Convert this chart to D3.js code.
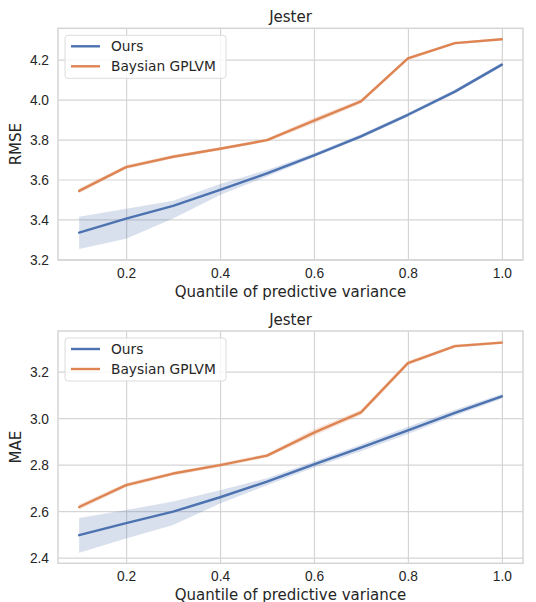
<!DOCTYPE html>
<html>
<head>
<meta charset="utf-8">
<script src="https://cdn.jsdelivr.net/npm/d3@7"></script>
<style>
  body { margin: 0; background: #fff; }
  svg { display: block; font-family: "DejaVu Sans", sans-serif; }
</style>
</head>
<body>
<svg id="chart" width="536" height="602"></svg>
<script>
// quantiles on the x axis
const quantiles = [0.1, 0.2, 0.3, 0.4, 0.5, 0.6, 0.7, 0.8, 0.9, 1.0];
const xTicks = [0.2, 0.4, 0.6, 0.8, 1.0];

// RMSE panel
const rmseOurs   = [3.334, 3.404, 3.468, 3.548, 3.631, 3.721, 3.816, 3.924, 4.040, 4.175];
const rmseOursLo = [3.252, 3.303, 3.405, 3.522, 3.615, 3.711, 3.806, 3.914, 4.030, 4.166];
const rmseOursHi = [3.414, 3.454, 3.494, 3.578, 3.648, 3.731, 3.826, 3.934, 4.050, 4.184];
const rmseGp     = [3.543, 3.662, 3.714, 3.754, 3.797, 3.895, 3.991, 4.206, 4.283, 4.302];
const rmseGpLo   = [3.531, 3.652, 3.705, 3.746, 3.789, 3.881, 3.980, 4.197, 4.276, 4.297];
const rmseGpHi   = [3.555, 3.672, 3.723, 3.762, 3.805, 3.909, 4.002, 4.215, 4.290, 4.307];
const rmseTicks  = [3.2, 3.4, 3.6, 3.8, 4.0, 4.2];

// MAE panel
const maeOurs   = [2.497, 2.549, 2.598, 2.660, 2.727, 2.801, 2.873, 2.948, 3.023, 3.094];
const maeOursLo = [2.421, 2.483, 2.541, 2.633, 2.712, 2.788, 2.858, 2.932, 3.010, 3.084];
const maeOursHi = [2.571, 2.605, 2.642, 2.690, 2.742, 2.814, 2.887, 2.963, 3.036, 3.104];
const maeGp     = [2.618, 2.712, 2.762, 2.798, 2.839, 2.938, 3.025, 3.237, 3.310, 3.325];
const maeGpLo   = [2.606, 2.703, 2.754, 2.790, 2.831, 2.924, 3.014, 3.228, 3.303, 3.319];
const maeGpHi   = [2.630, 2.721, 2.770, 2.806, 2.847, 2.952, 3.036, 3.246, 3.317, 3.331];
const maeTicks  = [2.4, 2.6, 2.8, 3.0, 3.2];

const seriesNames = ["Ours", "Baysian GPLVM"];
const colors = ["#4c72b0", "#dd8452"];
const textColor = "#262626";
const gridColor = "#d5d5d5";

const svg = d3.select("#chart");

function drawPanel(opts) {
    const left = 58, right = 523;
    const x = d3.scaleLinear().domain([0.055, 1.045]).range([left, right]);
    const y = d3.scaleLinear().domain(opts.yDomain).range([opts.bottom, opts.top]);
    const g = svg.append("g");

    // grid lines via axes
    const gx = g.append("g")
        .attr("transform", "translate(0," + opts.bottom + ")")
        .call(d3.axisBottom(x).tickValues(xTicks).tickFormat(d3.format(".1f"))
            .tickSize(-(opts.bottom - opts.top)).tickPadding(8));
    const gy = g.append("g")
        .attr("transform", "translate(" + left + ",0)")
        .call(d3.axisLeft(y).tickValues(opts.yTicks).tickFormat(d3.format(".1f"))
            .tickSize(-(right - left)).tickPadding(9));
    [gx, gy].forEach(a => {
        a.select(".domain").remove();
        a.selectAll(".tick line").attr("stroke", gridColor).attr("stroke-width", 1.2);
        a.selectAll(".tick text").attr("fill", textColor).attr("font-size", "13.75px");
    });
    gy.selectAll(".tick text").attr("dy", "0.35em");

    // frame
    g.append("rect")
        .attr("x", left).attr("y", opts.top)
        .attr("width", right - left).attr("height", opts.bottom - opts.top)
        .attr("fill", "none").attr("stroke", gridColor).attr("stroke-width", 1.5);

    const series = [
        { mean: opts.ours, lo: opts.oursLo, hi: opts.oursHi },
        { mean: opts.gp, lo: opts.gpLo, hi: opts.gpHi }
    ];

    const area = d3.area()
        .x((d, i) => x(quantiles[i]))
        .y0(d => y(d[0]))
        .y1(d => y(d[1]));
    const line = d3.line()
        .x((d, i) => x(quantiles[i]))
        .y(d => y(d));

    series.forEach((s, k) => {
        g.append("path")
            .datum(s.lo.map((v, i) => [v, s.hi[i]]))
            .attr("d", area)
            .attr("fill", colors[k])
            .attr("fill-opacity", 0.22);
    });
    series.forEach((s, k) => {
        g.append("path")
            .datum(s.mean)
            .attr("d", line)
            .attr("fill", "none")
            .attr("stroke", colors[k])
            .attr("stroke-width", 2.4)
            .attr("stroke-linejoin", "round")
            .attr("stroke-linecap", "round");
    });

    // title
    g.append("text")
        .attr("x", (left + right) / 2).attr("y", opts.top - 6)
        .attr("text-anchor", "middle").attr("fill", textColor)
        .attr("font-size", "15px").text(opts.title);

    // axis labels
    g.append("text")
        .attr("x", (left + right) / 2).attr("y", opts.bottom + 37)
        .attr("text-anchor", "middle").attr("fill", textColor)
        .attr("font-size", "15px").text(opts.xLabel);
    g.append("text")
        .attr("transform", "translate(21," + (opts.top + opts.bottom) / 2 + ") rotate(-90)")
        .attr("text-anchor", "middle").attr("fill", textColor)
        .attr("font-size", "15px").text(opts.yLabel);

    // legend
    const lg = g.append("g").attr("transform", "translate(65," + (opts.top + 7) + ")");
    lg.append("rect")
        .attr("width", 161).attr("height", 43).attr("rx", 3)
        .attr("fill", "#fff").attr("fill-opacity", 0.8)
        .attr("stroke", "#dcdcdc").attr("stroke-width", 1);
    seriesNames.forEach((name, k) => {
        const yy = 11 + k * 20;
        lg.append("line")
            .attr("x1", 6).attr("x2", 35).attr("y1", yy).attr("y2", yy)
            .attr("stroke", colors[k]).attr("stroke-width", 2.4);
        lg.append("text")
            .attr("x", 46).attr("y", yy).attr("dy", "0.35em")
            .attr("fill", textColor).attr("font-size", "13.75px").text(name);
    });
}

drawPanel({
    title: "Jester", yLabel: "RMSE", xLabel: "Quantile of predictive variance",
    top: 28.3, bottom: 260, yDomain: [3.197, 4.357], yTicks: rmseTicks,
    ours: rmseOurs, oursLo: rmseOursLo, oursHi: rmseOursHi,
    gp: rmseGp, gpLo: rmseGpLo, gpHi: rmseGpHi
});

drawPanel({
    title: "Jester", yLabel: "MAE", xLabel: "Quantile of predictive variance",
    top: 331, bottom: 563.3, yDomain: [2.376, 3.375], yTicks: maeTicks,
    ours: maeOurs, oursLo: maeOursLo, oursHi: maeOursHi,
    gp: maeGp, gpLo: maeGpLo, gpHi: maeGpHi
});
</script>
</body>
</html>
